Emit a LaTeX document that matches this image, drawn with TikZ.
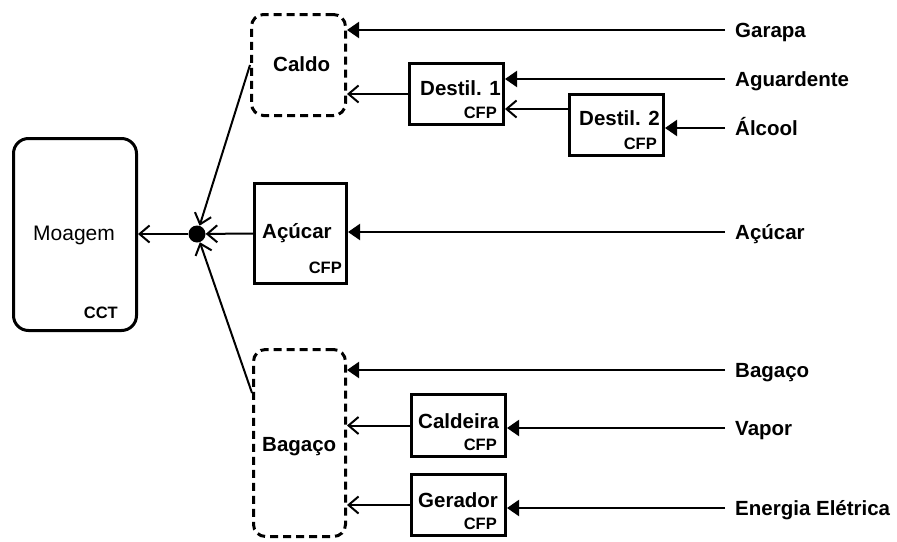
\documentclass[tikz,border=0pt]{standalone}
\usepackage{fontspec}
\setmainfont{Liberation Sans}
\usetikzlibrary{arrows.meta,calc}
\begin{document}
\begin{tikzpicture}[x=1pt,y=-1pt,
  solidbox/.style={draw,line width=3pt,inner sep=0pt},
  dashbox/.style={draw,line width=3pt,inner sep=0pt,dash pattern=on 8pt off 5pt,rounded corners=12pt},
  title/.style={font=\fontsize{20.5}{24}\selectfont\bfseries,inner sep=0pt,anchor=base west},
  tag/.style={font=\fontsize{16.5}{20}\selectfont\bfseries,inner sep=0pt,anchor=base east},
  src/.style={font=\fontsize{20.5}{24}\selectfont\bfseries,anchor=west,inner xsep=10pt,inner ysep=0pt,text height=15pt,text depth=0pt},
  feed/.style={line width=2pt,-{Triangle[length=12pt,width=16pt]}},
  flow/.style={line width=2pt,-{Straight Barb[length=10pt,width=17pt]}}
]
\useasboundingbox (0,0) rectangle (897,541);

% mill and distribution hub
\node[draw,line width=3pt,rounded corners=15pt,minimum width=123pt,minimum height=192pt,inner sep=0pt] (moagem) at (75,234.5) {};
\node[font=\fontsize{21}{25}\selectfont,inner sep=0pt,anchor=base west] (moagemtxt) at (33,240) {Moagem};
\node[tag] (cct) at (118,318) {CCT};
\node[circle,fill,minimum size=17pt,inner sep=0pt] (hub) at (197,234) {};

% product groups
\node[dashbox,minimum width=94pt,minimum height=101pt] (caldo) at (298.5,65) {};
\node[title] (caldotxt) at (273,71) {Caldo};
\node[solidbox,minimum width=92pt,minimum height=100pt] (acucar) at (300.5,233.5) {};
\node[title] (acucartxt) at (262,238) {Açúcar};
\node[tag] (acucarcfp) at (342,273) {CFP};
\node[dashbox,minimum width=92pt,minimum height=187pt] (bagaco) at (299.5,443) {};
\node[title] (bagacotxt) at (262,451) {Bagaço};

% processing units
\node[solidbox,minimum width=94pt,minimum height=61pt] (d1) at (456.5,94) {};
\node[title] (d1txt) at (420,95) {Destil. 1};
\node[tag] (d1cfp) at (497,118) {CFP};
\node[solidbox,minimum width=94pt,minimum height=61pt] (d2) at (616.5,125) {};
\node[title] (d2txt) at (579,125) {Destil. 2};
\node[tag] (d2cfp) at (657,149) {CFP};
\node[solidbox,minimum width=94pt,minimum height=62pt] (cald) at (458.5,425.5) {};
\node[title] (caldtxt) at (418,428) {Caldeira};
\node[tag] (caldcfp) at (497,450) {CFP};
\node[solidbox,minimum width=94pt,minimum height=61pt] (ger) at (458.5,505) {};
\node[title] (gertxt) at (418,507) {Gerador};
\node[tag] (gercfp) at (497,529) {CFP};

% products
\node[src] (garapa) at (725,30) {Garapa};
\node[src] (aguard) at (725,79) {Aguardente};
\node[src] (alcool) at (725,128) {Álcool};
\node[src] (acucarsrc) at (725,232) {Açúcar};
\node[src] (bagacosrc) at (725,370) {Bagaço};
\node[src] (vapor) at (725,428) {Vapor};
\node[src] (energia) at (725,508) {Energia Elétrica};

% product feeds
\draw[feed] (garapa.west) -- (garapa.west -| caldo.east);
\draw[feed] (aguard.west) -- (aguard.west -| d1.east);
\draw[feed] (alcool.west) -- (alcool.west -| d2.east);
\draw[feed] (acucarsrc.west) -- (acucarsrc.west -| acucar.east);
\draw[feed] (bagacosrc.west) -- (bagacosrc.west -| bagaco.east);
\draw[feed] (vapor.west) -- (vapor.west -| cald.east);
\draw[feed] (energia.west) -- (energia.west -| ger.east);

% internal flows
\coordinate (d2out) at ($(d2.west)+(0,-16)$);
\draw[flow] (d2out) -- (d2out -| d1.east);
\draw[flow] (d1.west) -- (d1.west -| caldo.east);
\draw[flow] (cald.west) -- (cald.west -| bagaco.east);
\draw[flow] (ger.west) -- (ger.west -| bagaco.east);
\coordinate (bagtap) at ($(bagaco.west)+(0,-50)$);
\draw[flow] (caldo.west) -- (hub);
\draw[flow] (bagtap) -- (hub);
\draw[flow] (acucar.west) -- (hub);
\draw[flow] (hub) -- (hub -| moagem.east);
\end{tikzpicture}
\end{document}
